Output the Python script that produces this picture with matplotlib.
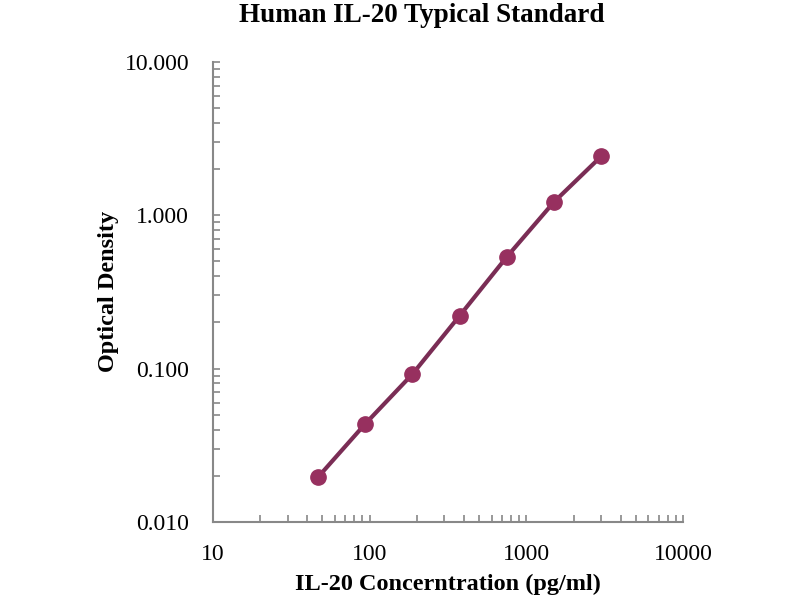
import numpy as np
import matplotlib.pyplot as plt
from matplotlib.ticker import LogLocator, FixedFormatter, FixedLocator

conc = [46.875, 93.75, 187.5, 375, 750, 1500, 3000]
od = [0.0196, 0.0436, 0.092, 0.221, 0.535, 1.22, 2.42]

x_ticks = [10, 100, 1000, 10000]
x_labels = ['10', '100', '1000', '10000']
y_ticks = [0.01, 0.1, 1, 10]
y_labels = ['0.010', '0.100', '1.000', '10.000']

plt.rcParams['font.family'] = ['Liberation Serif', 'DejaVu Serif']

fig = plt.figure(figsize=(8, 6), dpi=100)
ax = fig.add_axes([0.266, 0.13, 0.588, 0.767])

ax.plot(conc, od, color='#7a2d55', lw=3, zorder=2)
ax.plot(conc, od, 'o', color='#97305f', ms=11, zorder=3)

ax.set_xscale('log')
ax.set_yscale('log')
ax.set_xlim(10, 10000)
ax.set_ylim(0.01, 10)

ax.xaxis.set_major_locator(FixedLocator(x_ticks))
ax.xaxis.set_major_formatter(FixedFormatter(x_labels))
ax.yaxis.set_major_locator(FixedLocator(y_ticks))
ax.yaxis.set_major_formatter(FixedFormatter(y_labels))
ax.xaxis.set_minor_locator(LogLocator(base=10, subs=np.arange(2, 10)))
ax.yaxis.set_minor_locator(LogLocator(base=10, subs=np.arange(2, 10)))
ax.xaxis.set_minor_formatter(plt.NullFormatter())
ax.yaxis.set_minor_formatter(plt.NullFormatter())

for s in ['top', 'right']:
    ax.spines[s].set_visible(False)
for s in ['left', 'bottom']:
    ax.spines[s].set_color('#888888')
    ax.spines[s].set_linewidth(1.5)

ax.tick_params(which='both', direction='in', color='#888888', width=1.2, labelsize=17, length=5)
ax.tick_params(axis='y', pad=17)
ax.tick_params(axis='x', pad=16)

fig.text(0.5275, 0.975, 'Human IL-20 Typical Standard', fontsize=19.5, fontweight='bold',
         ha='center', va='center')
ax.set_xlabel('IL-20 Concerntration (pg/ml)', fontsize=17.5, fontweight='bold', labelpad=6)
ax.set_ylabel('Optical Density', fontsize=17.5, fontweight='bold', labelpad=4)

fig.savefig('out.png', dpi=100)
